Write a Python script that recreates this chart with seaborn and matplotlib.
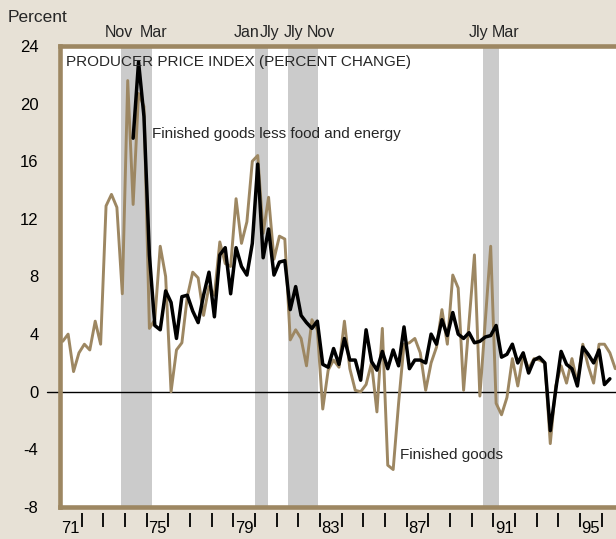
import numpy as np
import pandas as pd
import seaborn as sns
import matplotlib.pyplot as plt

# quarterly percent change (annual rate), first quarter of 1971 onward
finished = [3.5, 4.0, 1.4, 2.7, 3.3, 2.9, 4.9, 3.3, 12.9, 13.7, 12.8, 6.8,
            21.6, 13.0, 20.7, 19.8, 4.4, 5.0, 10.1, 8.0, 0.0, 2.9, 3.4, 6.6,
            8.3, 7.9, 5.3, 7.3, 6.7, 10.4, 8.9, 8.7, 13.4, 10.3, 11.8, 16.0,
            16.4, 11.0, 13.5, 9.2, 10.8, 10.6, 3.6, 4.3, 3.7, 1.8, 5.0, 4.3,
            -1.2, 1.5, 2.2, 1.7, 4.9, 1.6, 0.1, 0.0, 0.5, 2.0, -1.4, 4.4,
            -5.1, -5.4, -0.8, 3.3, 3.4, 3.7, 2.7, 0.1, 2.0, 3.1, 5.7, 3.3,
            8.1, 7.2, 0.1, 4.8, 9.5, -0.3, 4.9, 10.1, -0.8, -1.6, -0.4, 2.3,
            0.4, 2.6, 1.6, 2.3, 2.2, 2.0, -3.6, 0.4, 1.8, 0.6, 2.3, 0.6,
            3.3, 1.8, 0.6, 3.3, 3.3, 2.7, 1.6]

# finished goods less food and energy, starts second quarter of 1974
core_start = 13
core = [17.6, 22.9, 19.1, 9.5, 4.6, 4.3, 7.0, 6.2, 3.7, 6.6, 6.7, 5.6,
        4.8, 6.7, 8.3, 5.2, 9.5, 10.0, 6.8, 10.0, 8.7, 8.1, 10.3, 15.8,
        9.3, 11.3, 8.1, 9.0, 9.1, 5.7, 7.3, 5.3, 4.8, 4.4, 4.9, 1.9,
        1.7, 3.0, 1.9, 3.7, 2.2, 2.2, 0.8, 4.3, 2.1, 1.5, 2.8, 1.6,
        2.9, 1.8, 4.5, 1.6, 2.2, 2.2, 2.0, 4.0, 3.3, 5.0, 3.9, 5.5,
        4.0, 3.7, 4.1, 3.4, 3.5, 3.8, 3.9, 4.6, 2.4, 2.6, 3.3, 2.0,
        2.7, 1.3, 2.2, 2.4, 2.0, -2.7, 0.1, 2.8, 1.9, 1.6, 0.4, 3.1,
        2.6, 2.0, 2.9, 0.5, 0.9]

# recessions (start, end) and the month names printed over the shading
recessions = [(1973 + 10/12, 1975.25), (1980.0, 1980 + 7/12),
              (1981.5, 1982 + 11/12), (1990.5, 1991.25)]
rec_names = [("Nov", "Mar"), ("Jan", "Jly"), ("Jly", "Nov"), ("Jly", "Mar")]
rec_nudge = [(-2, 1), (-6, 1.5), (4, 2), (-3, 5)]

year_labels = ["71", "75", "79", "83", "87", "91", "95"]

BG = "#e7e1d6"
TAN = "#9d8762"

# quarters plotted at their middle
t_fin = 1971 + (np.arange(len(finished)) + 0.5) / 4
t_core = 1971 + (core_start + np.arange(len(core)) + 0.5) / 4

df = pd.concat([
    pd.DataFrame({"date": t_fin, "pct": finished, "series": "Finished goods"}),
    pd.DataFrame({"date": t_core, "pct": core,
                  "series": "Finished goods less food and energy"}),
])

sns.set_style("white")
plt.rcParams["font.family"] = ["Liberation Sans", "DejaVu Sans"]
plt.rcParams["axes.unicode_minus"] = False

fig = plt.figure(figsize=(6.16, 5.39), dpi=100, facecolor=BG)
ax = fig.add_axes([60/616, 32/539, 556/616, 461/539])
ax.set_facecolor("white")

for a, b in recessions:
    ax.axvspan(a, b, color="#cbcbcb", lw=0, zorder=0)

ax.axhline(0, xmin=-0.024, color="black", lw=1, clip_on=False, zorder=1)

sns.lineplot(data=df, x="date", y="pct", hue="series", size="series",
             palette={"Finished goods": TAN,
                      "Finished goods less food and energy": "black"},
             sizes={"Finished goods": 2.1,
                    "Finished goods less food and energy": 2.5},
             estimator=None, sort=False, legend=False, ax=ax, zorder=3)

ax.set_xlim(1971, 1971 + 556/21.67)
ax.set_ylim(-8, 24)
ax.set_xlabel("")
ax.set_ylabel("")

for side in ["left", "top", "bottom"]:
    ax.spines[side].set_color(TAN)
    ax.spines[side].set_linewidth(3.3)
    ax.spines[side].set_zorder(5)
ax.spines["right"].set_visible(False)

ax.set_yticks(np.arange(-8, 25, 4))
ax.tick_params(axis="y", length=9.5, width=1.2, color="#8f8f8f", pad=6,
               labelsize=12, labelcolor="black")
ax.set_xticks([])

# year ticks sit a little below the frame
sec = ax.secondary_xaxis(-0.013)
sec.spines["bottom"].set_visible(False)
sec.set_xticks(np.arange(1972, 1997), minor=True)
sec.set_xticks([int("19" + y) + 0.5 for y in year_labels])
sec.set_xticklabels(year_labels)
sec.tick_params(axis="x", which="minor", length=10, width=1.3, color="black")
sec.tick_params(axis="x", which="major", length=0, pad=6, labelsize=12,
                labelcolor="black")

for (a, b), (n1, n2), (d1, d2) in zip(recessions, rec_names, rec_nudge):
    ax.annotate(n1, (a, 1), xycoords=("data", "axes fraction"),
                xytext=(d1, 9.5), textcoords="offset points",
                ha="center", va="center", fontsize=11.5,
                annotation_clip=False)
    ax.annotate(n2, (b, 1), xycoords=("data", "axes fraction"),
                xytext=(d2, 9.5), textcoords="offset points",
                ha="center", va="center", fontsize=11.5,
                annotation_clip=False)

ax.text(0.011, 0.965, "PRODUCER PRICE INDEX (PERCENT CHANGE)",
        transform=ax.transAxes, fontsize=11, va="center", zorder=6)
ax.text(1975.25, 17.9, "Finished goods less food and energy",
        fontsize=11, va="center", zorder=6)
ax.text(1986.67, -4.4, "Finished goods", fontsize=11, va="center", zorder=6)

fig.text(8/616, 1 - 17/539, "Percent", fontsize=12.5, va="center")

fig.savefig("out.png", dpi=100, facecolor=BG)
